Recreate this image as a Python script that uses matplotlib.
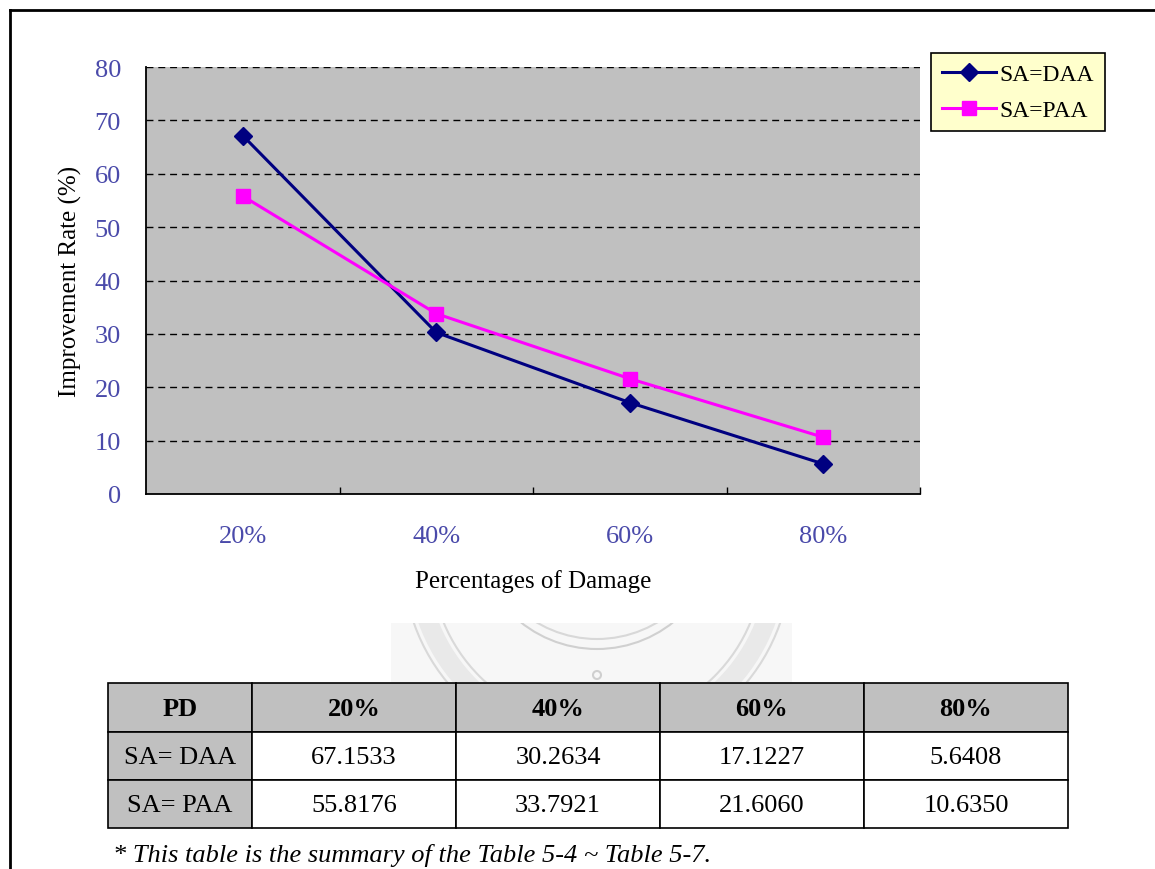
import matplotlib
matplotlib.use("Agg")
from matplotlib import pyplot as plt
from matplotlib.patches import Rectangle, Circle

damage = ["20%", "40%", "60%", "80%"]
sa_daa = [67.1533, 30.2634, 17.1227, 5.6408]
sa_paa = [55.8176, 33.7921, 21.6060, 10.6350]
row_names = ["SA= DAA", "SA= PAA"]
daa_text = ["67.1533", "30.2634", "17.1227", "5.6408"]
paa_text = ["55.8176", "33.7921", "21.6060", "10.6350"]

plt.rcParams["font.family"] = ["Liberation Serif", "DejaVu Serif"]

W, H = 1155, 870
fig = plt.figure(figsize=(W / 100, H / 100), dpi=100)

# page layer in pixel coordinates (frame, watermark, table, note)
page = fig.add_axes([0, 0, 1, 1], zorder=0)
page.set_xlim(0, W)
page.set_ylim(H, 0)
page.axis("off")

page.plot([10, W], [11, 11], color="black", lw=2)
page.plot([10, 10], [11, H], color="black", lw=2)

# faint seal behind the table
wm = Rectangle((391, 624), 401, 59, facecolor="#f7f7f7", edgecolor="none")
page.add_patch(wm)
for (cy, r, lw, col) in [(560, 180, 14, "#e9e9e9"), (560, 166, 1.5, "#d9d9d9"),
                         (560, 194, 1.5, "#d9d9d9"), (528, 122, 1.5, "#d0d0d0"),
                         (522, 118, 1.5, "#d8d8d8")]:
    c = Circle((597, cy), r, facecolor="none", edgecolor=col, lw=lw)
    page.add_patch(c)
    c.set_clip_path(wm)
page.add_patch(Circle((597, 676), 4, facecolor="none", edgecolor="#cfcfcf", lw=1.5))

col_x = [108, 252, 456, 660, 864, 1068]
row_y = [684, 733, 781, 829]
rows = [["PD"] + damage,
        [row_names[0]] + daa_text,
        [row_names[1]] + paa_text]
for i, row in enumerate(rows):
    for j, txt in enumerate(row):
        x0, x1 = col_x[j], col_x[j + 1]
        y0, y1 = row_y[i], row_y[i + 1]
        fc = "#c0c0c0" if (i == 0 or j == 0) else "white"
        page.add_patch(Rectangle((x0, y0), x1 - x0, y1 - y0, facecolor=fc,
                                 edgecolor="black", lw=1.2))
        page.text((x0 + x1) / 2, (y0 + y1) / 2 + 1, txt, ha="center", va="center",
                  fontsize=19, fontweight="bold" if i == 0 else "normal")

page.text(113, 856, "* This table is the summary of the Table 5-4 ~ Table 5-7.",
          fontsize=19, style="italic", ha="left", va="center")

# the chart
ax = fig.add_axes([146 / W, 1 - 495 / H, (920 - 146) / W, (495 - 68) / H], zorder=1)
ax.set_facecolor("#c0c0c0")
x = list(range(len(damage)))
ax.plot(x, sa_daa, color="#000080", lw=2.2, marker="D", markersize=9, label="SA=DAA", zorder=3)
ax.plot(x, sa_paa, color="#ff00ff", lw=2.2, marker="s", markersize=10, label="SA=PAA", zorder=3)

ax.set_xlim(-0.5, 3.5)
ax.set_ylim(0, 80)
ax.set_yticks(range(0, 81, 10))
for yv in range(10, 81, 10):
    ax.axhline(yv, color="black", lw=1, linestyle=(0, (5, 3.5)), zorder=1)

ax.set_xticks(x)
ax.set_xticklabels(damage)
ax.set_xticks([0.5, 1.5, 2.5, 3.5], minor=True)
ax.tick_params(axis="x", which="major", length=0, pad=22, labelsize=19, labelcolor="#4a4aaa")
ax.tick_params(axis="x", which="minor", direction="in", length=5, width=1)
ax.tick_params(axis="y", length=0, pad=18, labelsize=19, labelcolor="#4a4aaa")

for side in ["top", "right"]:
    ax.spines[side].set_visible(False)
ax.spines["left"].set_linewidth(1.3)
ax.spines["bottom"].set_linewidth(1.3)

ax.set_xlabel("Percentages of Damage", fontsize=18, labelpad=16)
ax.set_ylabel("Improvement Rate (%)", fontsize=18, labelpad=9)

leg = fig.legend(loc="upper left", bbox_to_anchor=(931 / W, 1 - 54 / H), fontsize=17,
                 frameon=True, fancybox=False, borderaxespad=0, handlelength=2.3,
                 handletextpad=0.15, borderpad=0.45, labelspacing=0.6)
leg.get_frame().set_facecolor("#ffffcc")
leg.get_frame().set_edgecolor("black")
leg.get_frame().set_linewidth(1.2)
leg.get_frame().set_alpha(1)

fig.savefig("out.png", dpi=100)
